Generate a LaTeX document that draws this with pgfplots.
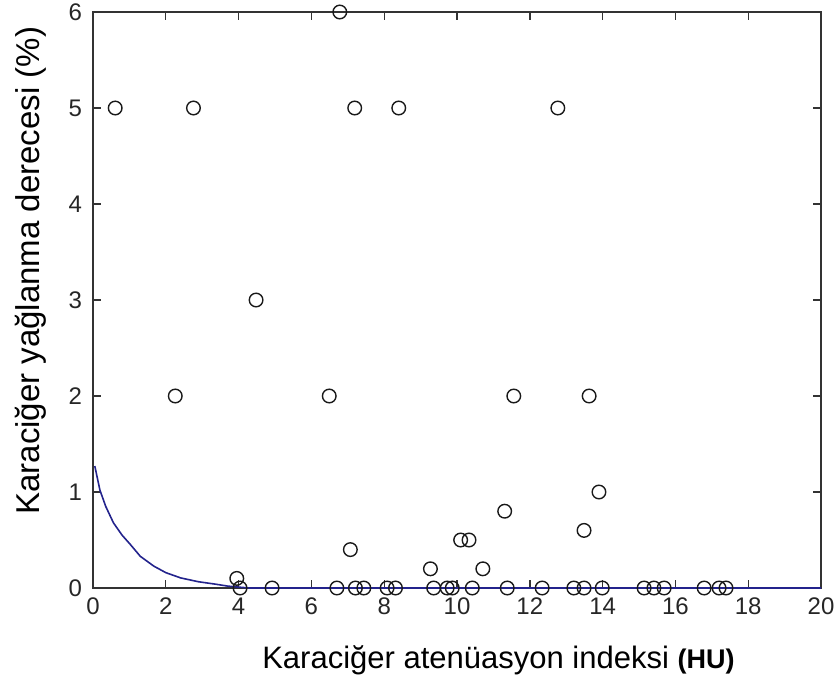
\documentclass[border=0pt]{standalone}
\usepackage{pgfplots}
\pgfplotsset{compat=1.18}
\usepackage{fontspec}
\setmainfont{Liberation Sans}
\definecolor{fitblue}{RGB}{35,35,140}
\begin{document}
\begin{tikzpicture}
\path[use as bounding box] (-46.5pt,-49pt) rectangle (373pt,294pt);
\begin{axis}[
  at={(0pt,0pt)}, anchor=south west,
  scale only axis,
  width=364pt, height=288pt,
  xmin=0, xmax=20, ymin=0, ymax=6,
  xtick={0,2,...,20}, ytick={0,1,...,6},
  tick align=inside,
  major tick length=4pt,
  axis line style={line width=0.8pt, black!80},
  tick style={line width=0.7pt, black!80},
  /pgf/number format/assume math mode=true,
  tick label style={font=\fontsize{12}{14}\selectfont, text=black!85},
  xticklabel style={yshift=-1.5pt},
  yticklabel style={xshift=-2pt},
  xlabel={\fontsize{15.5}{18}\selectfont Karaciğer atenüasyon indeksi {\fontsize{13.5}{16}\selectfont\bfseries (HU)}},
  ylabel={\fontsize{16.5}{19}\selectfont Karaciğer yağlanma derecesi (\%)},
  xlabel style={at={(axis description cs:0.232,-0.1406)}, anchor=base west, inner sep=0pt},
  ylabel style={at={(axis description cs:-0.0728,0.1267)}, anchor=base west, inner sep=0pt},
  clip=false,
]
\addplot[color=fitblue, line width=0.8pt] coordinates {
  (0.05,1.27) (0.19,1.02) (0.35,0.85) (0.56,0.68) (0.8,0.55) (1.02,0.456)
  (1.3,0.33) (1.67,0.228) (2.0,0.16) (2.41,0.105) (2.9,0.065) (3.33,0.042)
  (3.7,0.02) (3.98,0.01) (4.3,0.0) (20,0.0)
};
\addplot[only marks, mark=o, mark size=3.4pt, mark options={line width=0.7pt, black!90}] coordinates {
  (0.61,5) (2.76,5) (7.19,5) (8.4,5) (12.77,5)
  (6.78,6)
  (4.48,3)
  (2.26,2) (6.49,2) (11.56,2) (13.63,2)
  (13.9,1)
  (11.31,0.8)
  (13.49,0.6)
  (10.1,0.5) (10.33,0.5)
  (7.07,0.4)
  (9.27,0.2) (10.71,0.2)
  (3.95,0.1)
  (4.04,0) (4.92,0) (6.70,0) (7.21,0) (7.44,0) (8.08,0) (8.31,0) (9.36,0)
  (9.73,0) (9.87,0) (10.42,0) (11.38,0) (12.34,0) (13.21,0) (13.49,0)
  (13.99,0) (15.14,0) (15.41,0) (15.69,0) (16.79,0) (17.2,0) (17.39,0)
};
\end{axis}
\end{tikzpicture}
\end{document}
